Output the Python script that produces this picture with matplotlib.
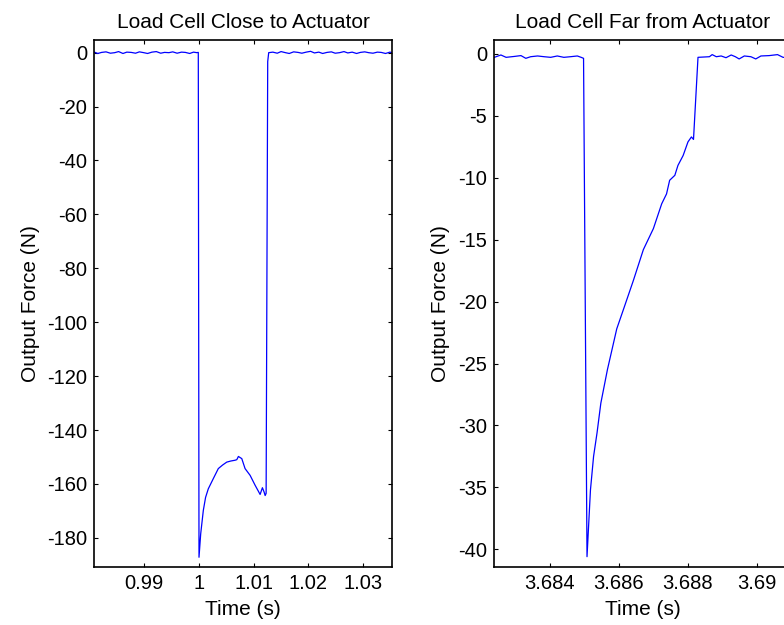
import matplotlib
matplotlib.use("Agg")
import matplotlib.pyplot as plt

# ---------------- data ----------------
# Left: load cell close to actuator
close_t = [0.98086, 0.9815, 0.9822, 0.9830, 0.9838, 0.9846, 0.9853, 0.9861, 0.9868,
           0.9876, 0.9884, 0.9891, 0.9899, 0.9906, 0.9914, 0.9922, 0.9930, 0.9937,
           0.9945, 0.9952, 0.9960, 0.9968, 0.9975, 0.9983, 0.9990, 0.99960, 0.99987,
           1.00000, 1.00031, 1.00079, 1.00120, 1.00170, 1.00262, 1.00353, 1.00430,
           1.00507, 1.00580, 1.00659, 1.00690, 1.00701, 1.00720, 1.00782, 1.00842,
           1.00934, 1.01026, 1.01080, 1.01117, 1.01159, 1.01190, 1.01209, 1.01227,
           1.01256, 1.01274,
           1.0135, 1.0143, 1.0150, 1.0158, 1.0165, 1.0173, 1.0181, 1.0188, 1.0196,
           1.0204, 1.0211, 1.0219, 1.0226, 1.0234, 1.0242, 1.0249, 1.0257, 1.0265,
           1.0272, 1.0280, 1.0288, 1.0295, 1.0303, 1.0310, 1.0318, 1.0326, 1.0333,
           1.0341, 1.0349, 1.03528]
close_f = [0.2, -0.3, 0.1, 0.3, -0.2, 0.0, 0.4, -0.3, 0.2, 0.1, -0.2, 0.3, 0.0,
           -0.3, 0.2, 0.4, -0.2, 0.1, 0.0, 0.3, -0.2, 0.2, 0.1, -0.3, 0.2, 0.0, 0.1,
           -187.2, -178.5, -169.8, -165.0, -161.8, -158.0, -154.3, -153.0,
           -151.9, -151.5, -151.2, -151.0, -150.6, -149.8, -150.6, -154.3,
           -156.8, -160.5, -162.5, -163.9, -161.4, -163.0, -164.3, -163.5,
           -3.3, 0.0,
           0.2, -0.2, 0.4, 0.0, -0.3, 0.3, 0.1, -0.2, 0.2, 0.5, -0.1, 0.2, -0.3,
           0.1, 0.3, -0.2, 0.0, 0.4, -0.1, 0.2, -0.3, 0.1, 0.3, 0.0, -0.2, 0.2,
           0.1, -0.3, 0.2, 0.0]

# Right: load cell far from actuator
far_t = [3.68240, 3.68259, 3.68274, 3.68297, 3.68317, 3.68331, 3.68345, 3.68365,
         3.68384, 3.68403, 3.68422, 3.68441, 3.68460, 3.68480, 3.68491, 3.68498,
         3.68508, 3.68513, 3.68518, 3.68527, 3.68537, 3.68548, 3.68567, 3.68594,
         3.68615, 3.68642, 3.68671, 3.68700, 3.68724, 3.68738, 3.68747, 3.68762,
         3.68771, 3.68786, 3.68800, 3.68810, 3.68816,
         3.68829, 3.68862, 3.68870, 3.68882, 3.68896, 3.68910, 3.68925, 3.68937,
         3.68948, 3.68963, 3.68982, 3.68996, 3.69011, 3.69035, 3.69059, 3.69075,
         3.69100]
far_f = [-0.27, -0.08, -0.27, -0.20, -0.13, -0.35, -0.22, -0.16, -0.22, -0.27,
         -0.16, -0.27, -0.22, -0.16, -0.27, -0.35,
         -40.6, -37.9, -35.2, -32.5, -30.6, -28.2, -25.5, -22.2,
         -20.5, -18.3, -15.8, -14.1, -12.1, -11.3, -10.2, -9.8,
         -9.0, -8.2, -7.1, -6.7, -6.9,
         -0.27, -0.22, -0.05, -0.22, -0.16, -0.30, -0.08, -0.22,
         -0.40, -0.16, -0.22, -0.40, -0.16, -0.13, -0.05, -0.27,
         -0.30]

titles = ["Load Cell Close to Actuator", "Load Cell Far from Actuator"]
xlabel = "Time (s)"
ylabel = "Output Force (N)"
left_xticks = [0.99, 1.0, 1.01, 1.02, 1.03]
left_xticklabels = ["0.99", "1", "1.01", "1.02", "1.03"]
left_yticks = [0, -20, -40, -60, -80, -100, -120, -140, -160, -180]
right_xticks = [3.684, 3.686, 3.688, 3.690]
right_xticklabels = ["3.684", "3.686", "3.688", "3.69"]
right_yticks = [0, -5, -10, -15, -20, -25, -30, -35, -40]

# ---------------- plot ----------------
plt.rcParams['font.family'] = ['Liberation Sans', 'DejaVu Sans']
plt.rcParams['font.size'] = 14.5
plt.rcParams['axes.unicode_minus'] = False

fig = plt.figure(figsize=(7.84, 6.25), dpi=100)
W, H = 784, 625
axw = (392 - 94.3) / W
axh = (566.7 - 40) / H
ax1 = fig.add_axes([94.3 / W, 1 - 566.7 / H, axw, axh])
ax2 = fig.add_axes([494 / W, 1 - 566.7 / H, axw, axh])

def style(ax):
    ax.tick_params(direction='in', length=3, width=0.8, top=True, right=True,
                   labelsize=14.5, pad=5, colors='black')
    for s in ax.spines.values():
        s.set_linewidth(1.2)
        s.set_color('black')

ax1.plot(close_t, close_f, color='#0000ff', lw=0.9)
ax1.set_xlim(0.98086, 1.03528)
ax1.set_ylim(-190.7, 4.7)
ax1.set_xticks(left_xticks)
ax1.set_xticklabels(left_xticklabels)
ax1.set_yticks(left_yticks)
ax1.set_title(titles[0], fontsize=15, pad=9)
ax1.set_xlabel(xlabel, fontsize=15, labelpad=5)
ax1.set_ylabel(ylabel, fontsize=15, labelpad=5)
style(ax1)

ax2.plot(far_t, far_f, color='#0000ff', lw=0.9)
ax2.set_xlim(3.68239, 3.6910)
ax2.set_ylim(-41.41, 1.13)
ax2.set_xticks(right_xticks)
ax2.set_xticklabels(right_xticklabels)
ax2.set_yticks(right_yticks)
ax2.set_title(titles[1], fontsize=15, pad=9)
ax2.set_xlabel(xlabel, fontsize=15, labelpad=5)
ax2.set_ylabel(ylabel, fontsize=15, labelpad=6)
style(ax2)

fig.savefig("out.png", dpi=100, facecolor='white')
